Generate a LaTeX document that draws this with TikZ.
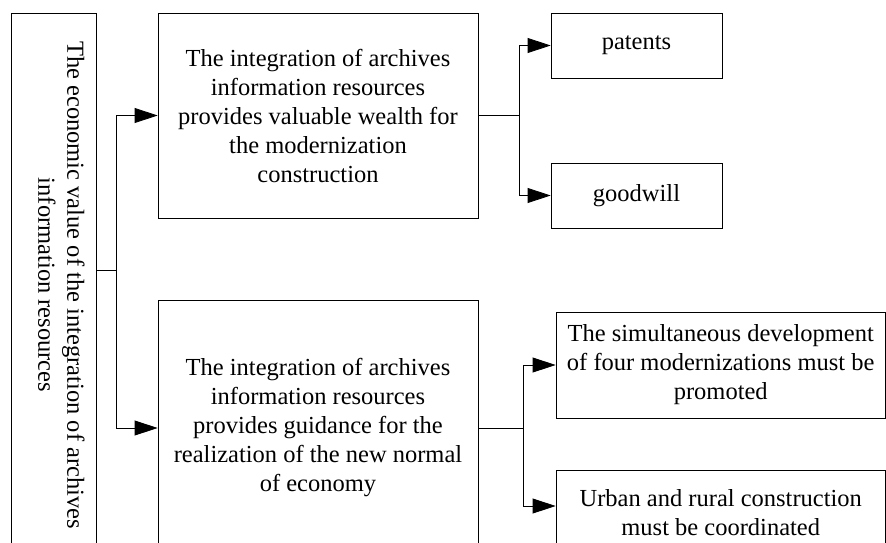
\documentclass[tikz,border=0pt]{standalone}
\usepackage{fontspec}
\setmainfont{Liberation Serif}
\usetikzlibrary{shapes,arrows.meta,positioning}
\tikzstyle{Block} = [draw, rectangle, align=center, inner sep=0pt, line width=0.8pt,
                     font=\fontsize{24.5}{29}\selectfont]
\tikzstyle{Arrow} = [line width=0.8pt, -{Triangle[length=23pt,width=15pt]}]
\tikzstyle{Line}  = [line width=0.8pt]

\begin{document}
\begin{tikzpicture}[x=1pt,y=-1pt]
    \useasboundingbox (0,0) rectangle (886,543);
    \clip (0,0) rectangle (886,543);
    \node[Block, rotate=-90, minimum width=544pt, minimum height=85pt, text depth=16pt] (econ) at (53.5,285)
        {The economic value of the integration of archives\\information resources};
    \node[Block, minimum width=320pt, minimum height=205pt] (wealth) at (318,115.5)
        {The integration of archives\\information resources\\provides valuable wealth for\\the modernization\\construction};
    \node[Block, minimum width=320pt, minimum height=256pt] (guidance) at (318,428)
        {The integration of archives\\information resources\\provides guidance for the\\realization of the new normal\\of economy};
    \node[Block, minimum width=171pt, minimum height=65pt] (patents)  at (636.5,45.5)  {patents};
    \node[Block, minimum width=171pt, minimum height=65pt] (goodwill) at (636.5,195.5) {goodwill};
    \node[Block, minimum width=329.5pt, minimum height=106pt] (fourmod) at (720.75,365)
        {The simultaneous development\\of four modernizations must be\\promoted};
    \node[Block, minimum width=329.5pt, minimum height=86pt] (urban) at (720.75,513)
        {Urban and rural construction\\must be coordinated};
    % splits
    \coordinate (split1) at (116,270);
    \draw[Line] (econ.north |- split1) -- (split1);
    \draw[Arrow] (split1) |- (wealth.west);
    \draw[Arrow] (split1) |- (guidance.west);
    \draw[Line] (wealth.east) -- ++(41,0) coordinate (split2);
    \draw[Arrow] (split2) |- (patents.west);
    \draw[Arrow] (split2) |- (goodwill.west);
    \draw[Line] (guidance.east) -- ++(45,0) coordinate (split3);
    \draw[Arrow] (split3) |- (fourmod.west);
    \draw[Arrow] (split3) |- ([yshift=7pt]urban.west);
\end{tikzpicture}
\end{document}
